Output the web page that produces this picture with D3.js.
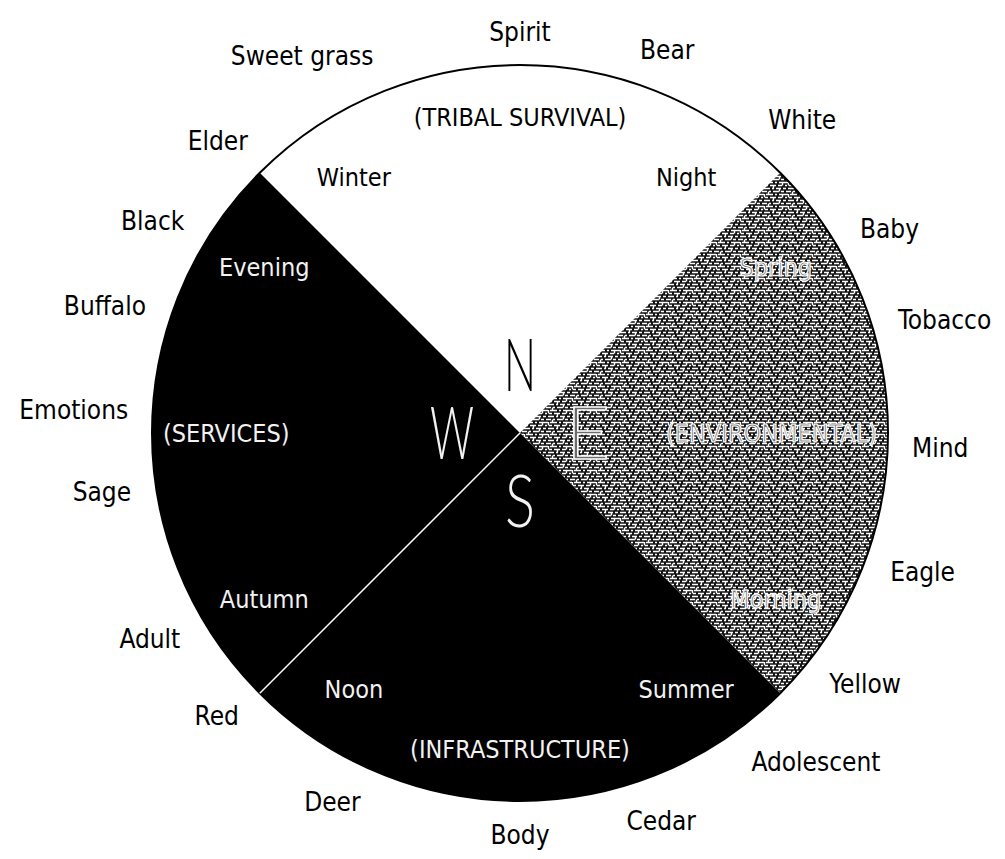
<!DOCTYPE html>
<html>
<head>
<meta charset="utf-8">
<script src="https://cdn.jsdelivr.net/npm/d3@7"></script>
<style>
  html, body { margin: 0; padding: 0; background: #fff; }
  svg text { font-family: "DejaVu Sans Condensed", "DejaVu Sans", sans-serif; }
</style>
</head>
<body>
<div id="chart"></div>
<script>
// quadrants, clockwise from north
const directions = ['N', 'E', 'S', 'W'];
const themes = ['(TRIBAL SURVIVAL)', '(ENVIRONMENTAL)', '(INFRASTRUCTURE)', '(SERVICES)'];
const seasons = ['Winter', 'Spring', 'Summer', 'Autumn'];
const times = ['Night', 'Morning', 'Noon', 'Evening'];

// words round the wheel, with their bearing in degrees (0 = north, clockwise)
const outerLabels = ['Elder', 'Sweet grass', 'Spirit', 'Bear', 'White',
  'Baby', 'Tobacco', 'Mind', 'Eagle', 'Yellow',
  'Adolescent', 'Cedar', 'Body', 'Deer', 'Red',
  'Adult', 'Sage', 'Emotions', 'Buffalo', 'Black'];
const outerBearings = [-46, -30, 0, 21, 42,
  61, 75, 92, 109, 126,
  138, 160, 180, 207, 227,
  241, 262, 273, 287, 300];

const width = 1005, height = 859;
const cx = 520, cy = 433, R = 368;

const svg = d3.select('#chart').append('svg')
  .attr('width', width)
  .attr('height', height);

// dark maze-like texture of the east quadrant
const pat = svg.append('defs').append('pattern')
  .attr('id', 'maze')
  .attr('patternUnits', 'userSpaceOnUse')
  .attr('width', 24)
  .attr('height', 12);
pat.append('rect').attr('width', 24).attr('height', 12).attr('fill', '#141414');
pat.append('path')
  .attr('d', 'M0,1.5H4M6,1.5H13M15,1.5H17M19,1.5H24' +
    'M1,4.5H3M5,4.5H8M10,4.5H16M18,4.5H22' +
    'M0,7.5H2M4,7.5H10M12,7.5H14M16,7.5H21M23,7.5H24' +
    'M2,10.5H7M9,10.5H11M13,10.5H19M21,10.5H24' +
    'M4.5,1V4.5M13.5,4.5V7.5M19.5,7.5V10.5M8.5,10.5V12M8.5,0V1.5M22.5,1.5V4.5')
  .attr('stroke', '#fff')
  .attr('stroke-width', 1.4)
  .attr('fill', 'none');

const g = svg.append('g').attr('transform', `translate(${cx},${cy})`);

const bearing = d3.scaleLinear().domain([0, 360]).range([0, 2 * Math.PI]);
const polar = (r, a) => [r * Math.sin(a), -r * Math.cos(a)];

const pie = d3.pie().sort(null).value(1)
  .startAngle(bearing(-45))
  .endAngle(bearing(315));
const slices = pie(directions);
const arc = d3.arc().innerRadius(0).outerRadius(R);

const fills = {N: '#fff', E: 'url(#maze)', S: '#000', W: '#000'};

g.selectAll('path.slice')
  .data(slices)
  .join('path')
  .attr('class', 'slice')
  .attr('d', arc)
  .attr('fill', d => fills[d.data]);

g.append('circle')
  .attr('r', R)
  .attr('fill', 'none')
  .attr('stroke', '#000')
  .attr('stroke-width', 2);

// thin white line between west and south
const [lx, ly] = polar(R, slices[2].endAngle);
g.append('line')
  .attr('x1', 0).attr('y1', 0)
  .attr('x2', lx).attr('y2', ly)
  .attr('stroke', '#fff')
  .attr('stroke-width', 1.5);

// text colour per quadrant
function paint(sel, dir) {
  if (dir === 'N') {
    sel.attr('fill', '#000');
  } else if (dir === 'E') {
    sel.attr('fill', '#6a6a6a').attr('stroke', '#fff').attr('stroke-width', 1.2);
  } else {
    sel.attr('fill', '#f2f2f2');
  }
  return sel;
}

const mid = d => (d.startAngle + d.endAngle) / 2;

slices.forEach((s, i) => {
  const dir = s.data;
  const a = mid(s);

  // season on the leading side, time of day on the trailing side
  [[seasons[i], a - bearing(33)], [times[i], a + bearing(33)]].forEach(([txt, ang]) => {
    const [x, y] = polar(305, ang);
    paint(g.append('text'), dir)
      .attr('x', x).attr('y', y).attr('dy', '0.36em')
      .attr('text-anchor', 'middle')
      .attr('font-size', 25)
      .text(txt);
  });

  // theme
  const t = paint(g.append('text'), dir)
    .attr('text-anchor', 'middle')
    .attr('dy', '0.36em')
    .attr('font-size', 25)
    .text(themes[i]);
  const w = t.node().getComputedTextLength();
  const r = (dir === 'N' || dir === 'S') ? 316 : 0.97 * R - w / 2;
  const [tx, ty] = polar(r, a);
  t.attr('x', tx).attr('y', ty);

  // compass letter
  const [dx, dy] = polar(68, a);
  const letter = paint(g.append('text'), dir)
    .attr('x', dx).attr('y', dy).attr('dy', '0.36em')
    .attr('text-anchor', 'middle')
    .attr('font-size', 72)
    .style('font-family', 'Lato, "DejaVu Sans", sans-serif')
    .style('font-weight', 300)
    .attr('textLength', {N: 32, E: 44, S: 30, W: 44}[dir])
    .attr('lengthAdjust', 'spacingAndGlyphs')
    .text(dir);
  if (dir === 'E') letter.attr('stroke-width', 1.5);
});

// outer words, pushed out so their box clears the ring
const capH = 19;
outerLabels.forEach((txt, i) => {
  const a = bearing(outerBearings[i]);
  const t = g.append('text')
    .attr('text-anchor', 'middle')
    .attr('dy', '0.36em')
    .attr('font-size', 26)
    .attr('fill', '#000')
    .text(txt);
  const w = t.node().getComputedTextLength();
  const r = 392 + w / 2 * Math.abs(Math.sin(a)) + capH / 2 * Math.abs(Math.cos(a));
  const [x, y] = polar(r, a);
  t.attr('x', x).attr('y', y);
});
</script>
</body>
</html>
